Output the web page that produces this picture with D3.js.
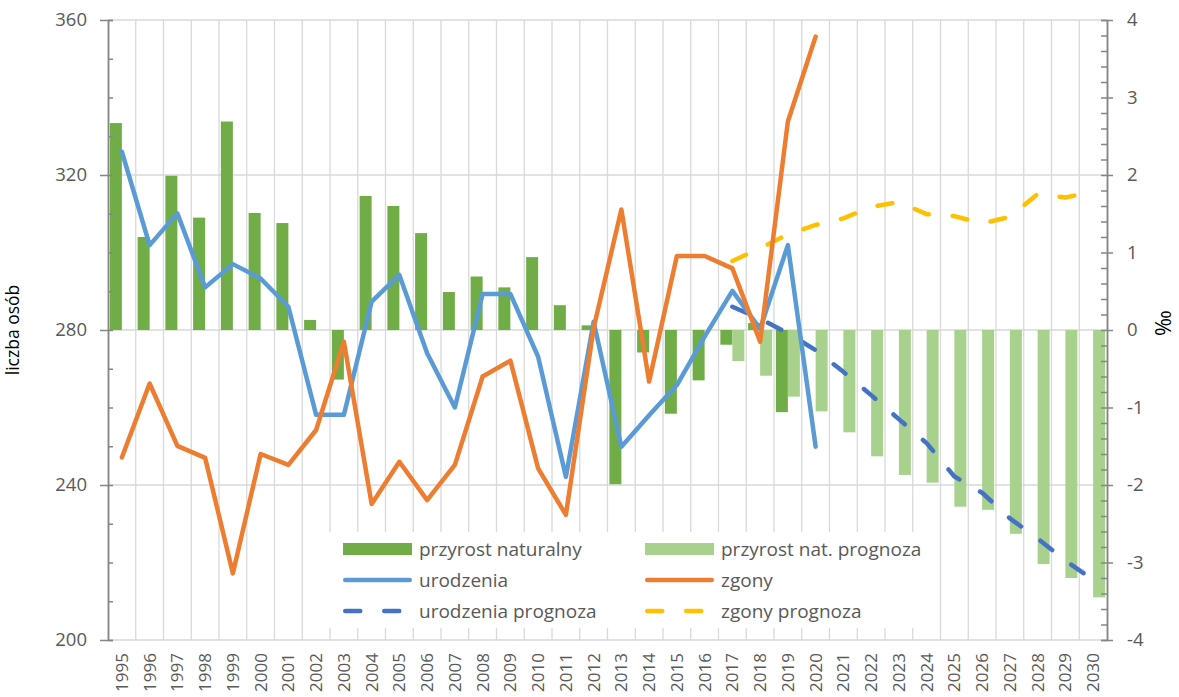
<!DOCTYPE html>
<html>
<head>
<meta charset="utf-8">
<script src="https://cdn.jsdelivr.net/npm/d3@7"></script>
<style>
	body { margin: 0; background: #fff; }
	svg text { font-family: "Open Sans", sans-serif; }
</style>
</head>
<body>
<script>
var years = ["1995", "1996", "1997", "1998", "1999", "2000", "2001", "2002", "2003", "2004",
	"2005", "2006", "2007", "2008", "2009", "2010", "2011", "2012", "2013", "2014",
	"2015", "2016", "2017", "2018", "2019", "2020", "2021", "2022", "2023", "2024",
	"2025", "2026", "2027", "2028", "2029", "2030"];

// przyrost naturalny w promilach, 1995-2019
var przyrost = [2.67, 1.20, 1.99, 1.45, 2.69, 1.51, 1.38, 0.13, -0.64, 1.73,
	1.60, 1.25, 0.49, 0.69, 0.55, 0.94, 0.32, 0.06, -1.99, -0.29,
	-1.08, -0.65, -0.19, 0.09, -1.06];
// prognoza przyrostu, 2017-2030
var przyrostPrognoza = [-0.40, -0.59, -0.86, -1.05, -1.32, -1.63, -1.87, -1.97, -2.28, -2.32,
	-2.63, -3.02, -3.20, -3.45];

// liczba osob, 1995-2020
var urodzenia = [326.0, 301.9, 310.1, 291.0, 297.0, 293.3, 286.0, 258.1, 258.1, 287.3,
	294.2, 274.0, 260.0, 289.3, 289.3, 273.1, 242.1, 282.1, 249.9, 258.0,
	265.8, 278.3, 290.1, 280.3, 301.9, 249.9];
var zgony = [247.1, 266.2, 250.1, 247.0, 217.2, 248.0, 245.2, 254.2, 277.0, 235.1,
	246.0, 236.1, 245.2, 268.0, 272.1, 244.3, 232.3, 280.5, 311.1, 266.7,
	299.1, 299.1, 295.9, 277.0, 333.8, 355.7];
// prognozy, 2017-2030
var urodzeniaPrognoza = [286.0, 282.9, 279.2, 274.8, 269.2, 263.2, 257.0, 250.8, 242.2, 238.0,
	231.4, 226.2, 220.5, 215.5];
var zgonyPrognoza = [297.8, 301.1, 304.7, 307.1, 308.8, 311.8, 313.0, 309.9, 309.4, 307.5,
	309.2, 315.1, 314.2, 315.7];

var leftTicks = [200, 240, 280, 320, 360];
var rightTicks = [-4, -3, -2, -1, 0, 1, 2, 3, 4];

drawChart();

function drawChart() {
	var width = 1179,
		height = 697,
		left = 108,
		right = 1107,
		top = 20,
		bottom = 640;

	var svg = d3.select("body").append("svg")
		.attr("width", width)
		.attr("height", height);

	var x = d3.scaleBand().domain(years).range([left, right]);
	var xSub = d3.scaleBand().domain(["nat", "prog"]).range([0, x.bandwidth()]).paddingOuter(0.156);
	var yL = d3.scaleLinear().domain([200, 360]).range([bottom, top]);
	var yR = d3.scaleLinear().domain([-4, 4]).range([bottom, top]);

	var cx = function(d) { return x(d.year) + x.bandwidth() / 2; };

	function series(values, firstYear) {
		var start = years.indexOf(firstYear);
		return values.map(function(v, i) { return {year: years[start + i], value: v}; });
	}

	// gridlines
	var grid = svg.append("g").attr("stroke", "#d9d9d9").attr("stroke-width", 1.3);
	grid.selectAll(".hg")
		.data(leftTicks)
		.enter().append("line")
		.attr("x1", left).attr("x2", right)
		.attr("y1", function(d) { return yL(d); })
		.attr("y2", function(d) { return yL(d); });
	grid.selectAll(".vg")
		.data(years.slice(1))
		.enter().append("line")
		.attr("x1", function(d) { return x(d); })
		.attr("x2", function(d) { return x(d); })
		.attr("y1", top).attr("y2", bottom);

	// bars
	var barData = series(przyrost, "1995").map(function(d) { d.key = "nat"; return d; })
		.concat(series(przyrostPrognoza, "2017").map(function(d) { d.key = "prog"; return d; }));
	svg.append("g").selectAll("rect")
		.data(barData)
		.enter().append("rect")
		.attr("x", function(d) { return x(d.year) + xSub(d.key); })
		.attr("width", xSub.bandwidth())
		.attr("y", function(d) { return Math.min(yR(d.value), yR(0)); })
		.attr("height", function(d) { return Math.abs(yR(d.value) - yR(0)); })
		.attr("fill", function(d) { return d.key == "nat" ? "#70ad47" : "#a9d18e"; });

	// lines
	var line = d3.line()
		.x(cx)
		.y(function(d) { return yL(d.value); });

	var lines = [
		{data: series(zgonyPrognoza, "2017"), color: "#ffc000", dash: "15,24"},
		{data: series(urodzeniaPrognoza, "2017"), color: "#4472c4", dash: "15,24"},
		{data: series(urodzenia, "1995"), color: "#5b9bd5", dash: null},
		{data: series(zgony, "1995"), color: "#ed7d31", dash: null}
	];
	svg.append("g").selectAll("path")
		.data(lines)
		.enter().append("path")
		.attr("d", function(d) { return line(d.data); })
		.attr("fill", "none")
		.attr("stroke", function(d) { return d.color; })
		.attr("stroke-width", 4.5)
		.attr("stroke-linejoin", "round")
		.attr("stroke-linecap", "round")
		.attr("stroke-dasharray", function(d) { return d.dash; });

	// axes
	function styleAxis(g) {
		g.select(".domain").attr("stroke", "#868686").attr("stroke-width", 1.5);
		g.selectAll(".tick line").attr("stroke", "#868686").attr("stroke-width", 1.5);
		g.selectAll(".tick text").attr("fill", "#595959").style("font-size", "18.5px");
	}

	svg.append("g")
		.attr("transform", "translate(" + left + ",0)")
		.call(d3.axisLeft(yL).tickValues(d3.range(200, 361, 10)).tickSize(-5).tickFormat(""))
		.call(styleAxis);
	svg.append("g")
		.attr("transform", "translate(" + left + ",0)")
		.call(d3.axisLeft(yL).tickValues(leftTicks).tickSizeInner(8).tickSizeOuter(0).tickPadding(13))
		.call(styleAxis);

	svg.append("g")
		.attr("transform", "translate(" + right + ",0)")
		.call(d3.axisRight(yR).tickValues(d3.range(-20, 21).map(function(v) { return v / 5; })).tickSize(-6).tickFormat(""))
		.call(styleAxis);
	svg.append("g")
		.attr("transform", "translate(" + right + ",0)")
		.call(d3.axisRight(yR).tickValues(rightTicks).tickSizeInner(6).tickSizeOuter(0).tickPadding(14)
			.tickFormat(function(d) { return d < 0 ? "-" + Math.abs(d) : d; }))
		.call(styleAxis);

	var xAxis = svg.append("g")
		.attr("transform", "translate(0," + bottom + ")")
		.call(d3.axisBottom(x).tickSize(0));
	xAxis.select(".domain").remove();
	xAxis.selectAll(".tick text")
		.attr("fill", "#595959")
		.style("font-size", "17px")
		.attr("transform", "rotate(-90)")
		.attr("text-anchor", "end")
		.attr("x", -13)
		.attr("y", 0)
		.attr("dy", "0.35em");

	// axis titles
	svg.append("text")
		.attr("transform", "translate(19,330) rotate(-90)")
		.attr("text-anchor", "middle")
		.style("font-size", "17.5px")
		.attr("fill", "#000")
		.text("liczba osób");
	svg.append("text")
		.attr("transform", "translate(1171,323) rotate(-90)")
		.attr("text-anchor", "middle")
		.style("font-size", "22px")
		.attr("fill", "#000")
		.text("‰");

	// legend
	var legendItems = [
		{label: "przyrost naturalny", type: "bar", color: "#70ad47"},
		{label: "przyrost nat. prognoza", type: "bar", color: "#a9d18e"},
		{label: "urodzenia", type: "line", color: "#5b9bd5"},
		{label: "zgony", type: "line", color: "#ed7d31"},
		{label: "urodzenia prognoza", type: "dash", color: "#4472c4"},
		{label: "zgony prognoza", type: "dash", color: "#ffc000"}
	];
	var legend = svg.append("g");
	legend.append("rect")
		.attr("x", 329).attr("y", 532)
		.attr("width", 586).attr("height", 96)
		.attr("fill", "#fff");

	var item = legend.selectAll(".item")
		.data(legendItems)
		.enter().append("g")
		.attr("transform", function(d, i) {
			return "translate(" + (i % 2 ? 645 : 343) + "," + (549 + Math.floor(i / 2) * 31) + ")";
		});
	item.filter(function(d) { return d.type == "bar"; })
		.append("rect")
		.attr("x", 0).attr("y", -6)
		.attr("width", 69).attr("height", 12)
		.attr("fill", function(d) { return d.color; });
	item.filter(function(d) { return d.type != "bar"; })
		.append("line")
		.attr("x1", 2.25).attr("x2", 66.75)
		.attr("stroke", function(d) { return d.color; })
		.attr("stroke-width", 4.5)
		.attr("stroke-linecap", "round")
		.attr("stroke-dasharray", function(d) { return d.type == "dash" ? "15,24" : null; });
	item.append("text")
		.attr("x", 76)
		.attr("dy", "0.35em")
		.attr("fill", "#595959")
		.style("font-size", "19px")
		.text(function(d) { return d.label; });
}
</script>
</body>
</html>
